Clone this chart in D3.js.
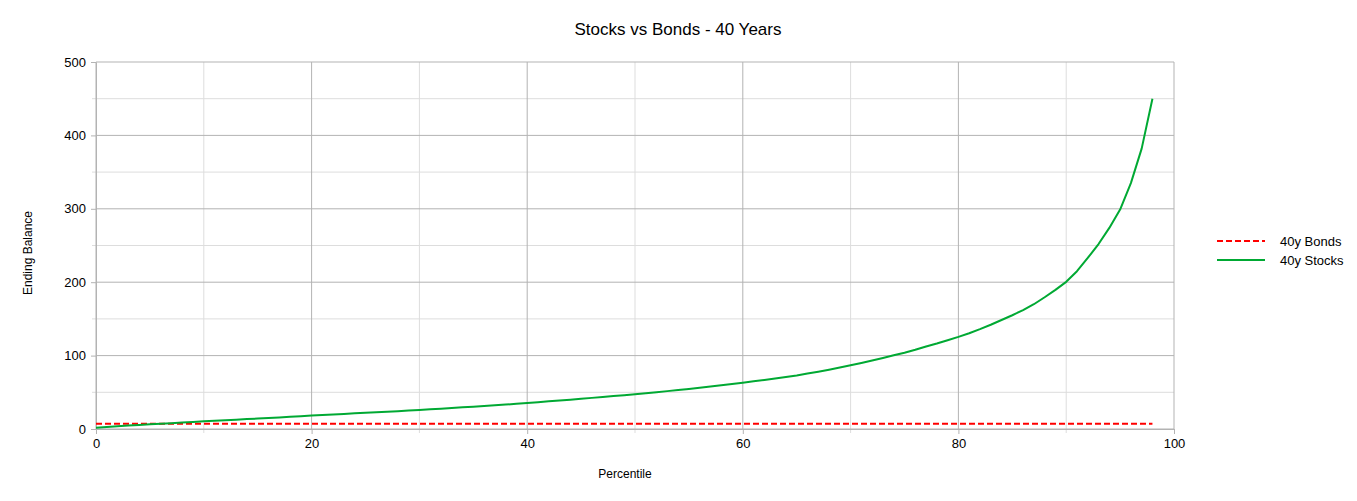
<!DOCTYPE html>
<html>
<head>
<meta charset="utf-8">
<script src="https://cdn.jsdelivr.net/npm/d3@7"></script>
<style>
  body { margin: 0; background: #fff; }
  text { font-family: "Liberation Sans", Arial, sans-serif; fill: #000; }
</style>
</head>
<body>
<script>
/* DATA */
// percentile of outcome (x) and ending balance (y)
var stocks = [1.8, 2.8, 3.8, 4.7, 5.6, 6.4, 7.2, 8.0, 8.8, 9.6,
  10.4, 11.2, 12.0, 12.7, 13.5, 14.2, 15.0, 15.8, 16.6, 17.4,
  18.3, 19.0, 19.8, 20.5, 21.3, 22.0, 22.8, 23.5, 24.3, 25.1,
  26.0, 26.9, 27.7, 28.6, 29.5, 30.4, 31.4, 32.3, 33.3, 34.4,
  35.5, 36.6, 37.7, 38.8, 40.0, 41.2, 42.4, 43.6, 44.8, 46.0,
  47.3, 48.7, 50.1, 51.6, 53.1, 54.6, 56.2, 57.8, 59.5, 61.2,
  63.0, 64.9, 66.8, 68.8, 70.9, 73.0, 75.5, 78.0, 80.8, 83.7,
  86.8, 90.0, 93.3, 96.8, 100.5, 104.0, 108.0, 112.5, 116.5, 121.0,
  125.5, 130.5, 136.0, 142.0, 148.5, 155.0, 162.0, 170.0, 179.5, 189.5,
  200.5, 215.0, 233.0, 252.0, 274.0, 299.0, 335.0, 382.0, 450.0];
var bonds = stocks.map(function() { return 7; }); // flat bond outcome
var percentiles = stocks.map(function(d, i) { return i; });

var xTicks = [0, 20, 40, 60, 80, 100];
var xMinor = [10, 30, 50, 70, 90];
var yTicks = [0, 100, 200, 300, 400, 500];
var yMinor = [50, 150, 250, 350, 450];

var seriesNames = ["40y Bonds", "40y Stocks"];

/* LAYOUT */
var W = 1357, H = 501;
var margin = {top: 62, right: 183, bottom: 72, left: 96},
    width = W - margin.left - margin.right,
    height = H - margin.top - margin.bottom;

var x = d3.scaleLinear().domain([0, 100]).range([0, width]);
var y = d3.scaleLinear().domain([0, 500]).range([height, 0]);

var svg = d3.select("body").append("svg")
    .attr("width", W)
    .attr("height", H);

var g = svg.append("g")
    .attr("transform", "translate(" + margin.left + "," + margin.top + ")");

// minor grid
g.selectAll(".vminor").data(xMinor).enter().append("line")
    .attr("x1", d => x(d)).attr("x2", d => x(d))
    .attr("y1", 0).attr("y2", height + 4)
    .attr("stroke", "#dddddd");
g.selectAll(".hminor").data(yMinor).enter().append("line")
    .attr("x1", -4).attr("x2", width)
    .attr("y1", d => y(d)).attr("y2", d => y(d))
    .attr("stroke", "#dddddd");

// major grid
g.selectAll(".vmajor").data(xTicks).enter().append("line")
    .attr("x1", d => x(d)).attr("x2", d => x(d))
    .attr("y1", 0).attr("y2", height)
    .attr("stroke", "#b3b3b3");
g.selectAll(".hmajor").data(yTicks).enter().append("line")
    .attr("x1", 0).attr("x2", width)
    .attr("y1", d => y(d)).attr("y2", d => y(d))
    .attr("stroke", "#b3b3b3");

// axes
var xAxis = g.append("g")
    .attr("transform", "translate(0," + height + ")")
    .call(d3.axisBottom(x).tickValues(xTicks).tickSize(5).tickSizeOuter(0).tickPadding(5));
var yAxis = g.append("g")
    .call(d3.axisLeft(y).tickValues(yTicks).tickSize(5).tickSizeOuter(0).tickPadding(5));

[xAxis, yAxis].forEach(function(a) {
  a.select(".domain").attr("stroke", "#b3b3b3");
  a.selectAll(".tick line").attr("stroke", "#b3b3b3");
  a.selectAll(".tick text")
    .style("font-family", "'Liberation Sans', Arial, sans-serif")
    .style("font-size", "13px")
    .attr("fill", "#000");
});

// lines
var line = d3.line()
    .x(function(d) { return x(d[0]); })
    .y(function(d) { return y(d[1]); });

g.append("path")
    .datum(d3.zip(percentiles, bonds))
    .attr("d", line)
    .attr("fill", "none")
    .attr("stroke", "#ff0000")
    .attr("stroke-width", 2)
    .attr("stroke-dasharray", "6,3");

g.append("path")
    .datum(d3.zip(percentiles, stocks))
    .attr("d", line)
    .attr("fill", "none")
    .attr("stroke", "#00a933")
    .attr("stroke-width", 2)
    .attr("stroke-linejoin", "round");

// title
svg.append("text")
    .attr("x", 678).attr("y", 35)
    .attr("text-anchor", "middle")
    .style("font-size", "17px")
    .text("Stocks vs Bonds - 40 Years");

// axis titles
svg.append("text")
    .attr("x", 625).attr("y", 478)
    .attr("text-anchor", "middle")
    .style("font-size", "12px")
    .text("Percentile");

svg.append("text")
    .attr("transform", "translate(32,253) rotate(-90)")
    .attr("text-anchor", "middle")
    .style("font-size", "12px")
    .text("Ending Balance");

// legend
var legend = svg.append("g").attr("transform", "translate(1217,241)");
var legColors = ["#ff0000", "#00a933"];
var legDash = ["6,3", null];
seriesNames.forEach(function(name, i) {
  var row = legend.append("g").attr("transform", "translate(0," + (i * 19) + ")");
  row.append("line")
    .attr("x1", 0).attr("x2", 48)
    .attr("stroke", legColors[i])
    .attr("stroke-width", 2)
    .attr("stroke-dasharray", legDash[i]);
  row.append("text")
    .attr("x", 63).attr("y", 4.5)
    .style("font-size", "13px")
    .text(name);
});
</script>
</body>
</html>
